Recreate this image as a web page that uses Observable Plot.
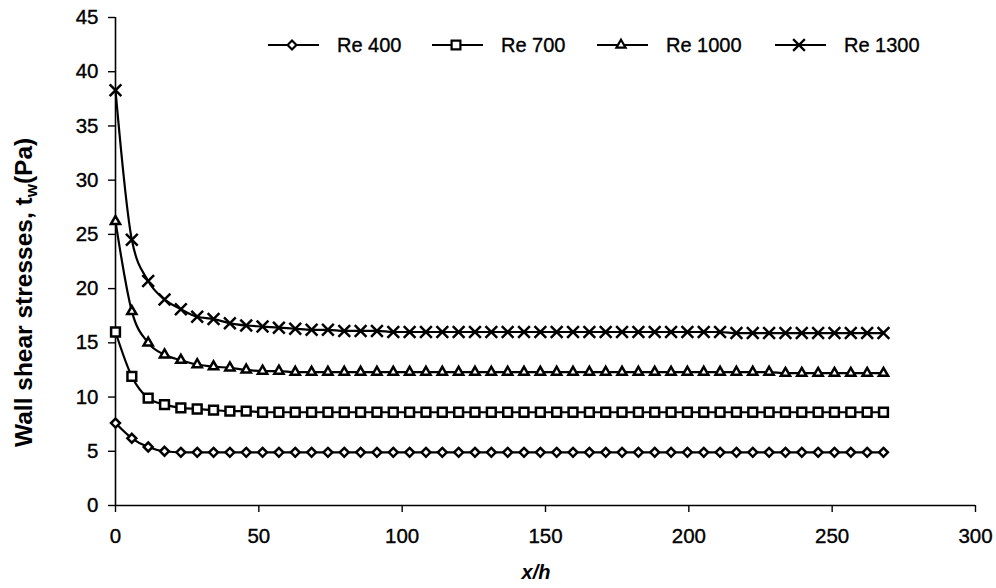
<!DOCTYPE html>
<html><head><meta charset="utf-8">
<script src="https://cdn.jsdelivr.net/npm/d3@7"></script>
<script src="https://cdn.jsdelivr.net/npm/@observablehq/plot@0.6"></script>
<style>
html,body{margin:0;padding:0;background:#fff;}
#wrap{position:relative;width:996px;height:588px;}
</style></head><body><div id="wrap"></div>
<script>
// x/h positions of the data points
const xh = [0, 5.7, 11.4, 17.1, 22.8, 28.5, 34.2, 39.9, 45.6, 51.3, 57, 62.7,
  68.4, 74.1, 79.8, 85.5, 91.2, 96.9, 102.6, 108.3, 114, 119.7, 125.4, 131.1,
  136.8, 142.5, 148.2, 153.9, 159.6, 165.3, 171, 176.7, 182.4, 188.1, 193.8, 199.5,
  205.2, 210.9, 216.6, 222.3, 228, 233.7, 239.4, 245.1, 250.8, 256.5, 262.2, 267.9];

const re400 = [7.6, 6.2, 5.4, 5.0, 4.9, 4.9, 4.9, 4.9, 4.9, 4.9, 4.9, 4.9,
  4.9, 4.9, 4.9, 4.9, 4.9, 4.9, 4.9, 4.9, 4.9, 4.9, 4.9, 4.9,
  4.9, 4.9, 4.9, 4.9, 4.9, 4.9, 4.9, 4.9, 4.9, 4.9, 4.9, 4.9,
  4.9, 4.9, 4.9, 4.9, 4.9, 4.9, 4.9, 4.9, 4.9, 4.9, 4.9, 4.9];
const re700 = [16.0, 11.9, 9.9, 9.3, 9.0, 8.9, 8.8, 8.7, 8.7, 8.6, 8.6, 8.6,
  8.6, 8.6, 8.6, 8.6, 8.6, 8.6, 8.6, 8.6, 8.6, 8.6, 8.6, 8.6,
  8.6, 8.6, 8.6, 8.6, 8.6, 8.6, 8.6, 8.6, 8.6, 8.6, 8.6, 8.6,
  8.6, 8.6, 8.6, 8.6, 8.6, 8.6, 8.6, 8.6, 8.6, 8.6, 8.6, 8.6];
const re1000 = [26.2, 17.9, 15.0, 13.9, 13.4, 13.0, 12.8, 12.7, 12.5, 12.4, 12.4, 12.3,
  12.3, 12.3, 12.3, 12.3, 12.3, 12.3, 12.3, 12.3, 12.3, 12.3, 12.3, 12.3,
  12.3, 12.3, 12.3, 12.3, 12.3, 12.3, 12.3, 12.3, 12.3, 12.3, 12.3, 12.3,
  12.3, 12.3, 12.3, 12.3, 12.3, 12.2, 12.2, 12.2, 12.2, 12.2, 12.2, 12.2];
const re1300 = [38.3, 24.5, 20.7, 19.0, 18.1, 17.4, 17.2, 16.8, 16.6, 16.5, 16.4, 16.3,
  16.2, 16.2, 16.1, 16.1, 16.1, 16.0, 16.0, 16.0, 16.0, 16.0, 16.0, 16.0,
  16.0, 16.0, 16.0, 16.0, 16.0, 16.0, 16.0, 16.0, 16.0, 16.0, 16.0, 16.0,
  16.0, 16.0, 15.9, 15.9, 15.9, 15.9, 15.9, 15.9, 15.9, 15.9, 15.9, 15.9];

const seriesNames = ["Re 400", "Re 700", "Re 1000", "Re 1300"];
const seriesValues = [re400, re700, re1000, re1300];
const xTicks = [0, 50, 100, 150, 200, 250, 300];
const yTicks = [0, 5, 10, 15, 20, 25, 30, 35, 40, 45];

const symbolFor = {"Re 400": d3.symbolDiamond2, "Re 700": d3.symbolSquare2, "Re 1000": d3.symbolTriangle2, "Re 1300": d3.symbolTimes};
const radiusFor = {"Re 400": 4.0, "Re 700": 5.6, "Re 1000": 4.4, "Re 1300": 5.4};

const rows = [];
seriesNames.forEach((name, k) => seriesValues[k].forEach((v, i) => rows.push({series: name, x: xh[i], y: v})));

const FONT = "'Liberation Sans', Arial, Helvetica, sans-serif";

const chart = Plot.plot({
  width: 996, height: 588,
  marginLeft: 115, marginRight: 21, marginTop: 17, marginBottom: 83,
  style: {fontFamily: FONT, fontSize: "20.5px", color: "#000", background: "#fff", overflow: "visible"},
  x: {domain: [0, 300], label: null},
  y: {domain: [0, 45], label: null},
  marks: [
    Plot.axisX(xTicks, {tickSize: 7, tickPadding: 16, strokeWidth: 1.4, label: null}),
    Plot.axisY(yTicks, {tickSize: 7, tickPadding: 10, strokeWidth: 1.4, label: null}),
    Plot.ruleY([0], {stroke: "#000", strokeWidth: 1.6}),
    Plot.ruleX([0], {stroke: "#000", strokeWidth: 1.6}),
    ...seriesNames.map(n => Plot.line(rows.filter(r => r.series === n), {x: "x", y: "y", stroke: "#000", strokeWidth: 2.2, curve: "monotone-x"})),
    ...seriesNames.map(n => Plot.dot(rows.filter(r => r.series === n), {x: "x", y: "y", symbol: symbolFor[n], r: radiusFor[n], fill: "#fff", stroke: "#000", strokeWidth: 2.5}))
  ]
});

document.getElementById("wrap").appendChild(chart);
const svg = d3.select(chart);

// tick labels: intended size, slightly heavier like the printed original
svg.selectAll("text").style("font-size", "20.5px").style("font-family", FONT)
  .style("stroke", "#000").style("stroke-width", "0.35px");

// y-axis title with subscript
const yt = svg.append("text")
  .attr("transform", "translate(32,447) rotate(-90)")
  .attr("text-anchor", "start")
  .style("font-family", FONT).style("font-weight", "bold").style("font-size", "24.5px").attr("fill", "#000");
yt.append("tspan").text("Wall shear stresses, t");
yt.append("tspan").style("font-size", "17px").attr("dy", 5).text("w");
yt.append("tspan").attr("dy", -5).text("(Pa)");

// x-axis title
svg.append("text")
  .attr("x", 536).attr("y", 579)
  .attr("text-anchor", "middle")
  .style("font-family", FONT).style("font-weight", "bold").style("font-style", "italic").style("font-size", "20px").attr("fill", "#000")
  .text("x/h");

// legend
const legendX = [268, 432, 597, 775];
const legendY = 45;
const lg = svg.append("g");
seriesNames.forEach((n, i) => {
  const x0 = legendX[i];
  lg.append("line").attr("x1", x0).attr("x2", x0 + 51).attr("y1", legendY).attr("y2", legendY).attr("stroke", "#000").attr("stroke-width", 1.8);
  const s = radiusFor[n];
  lg.append("path").attr("d", d3.symbol(symbolFor[n], s * s * Math.PI)())
    .attr("transform", `translate(${x0 + 24},${legendY})`)
    .attr("fill", "#fff").attr("stroke", "#000").attr("stroke-width", 2.2);
  lg.append("text").attr("x", x0 + 69).attr("y", legendY + 7)
    .attr("text-anchor", "start")
    .style("font-family", FONT).style("font-size", "20px").attr("fill", "#000")
    .style("stroke", "#000").style("stroke-width", "0.35px").text(n);
});
</script></body></html>
